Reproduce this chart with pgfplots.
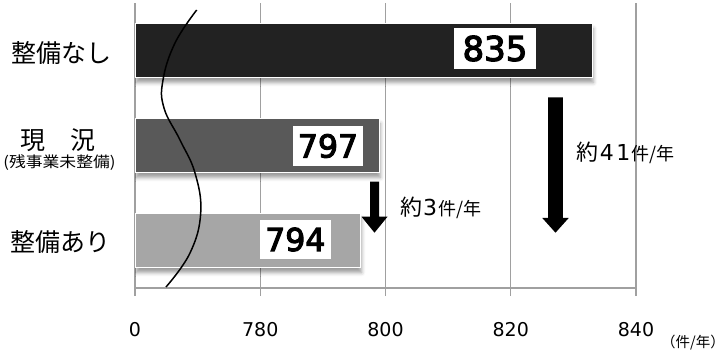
\documentclass[border=0pt]{standalone}
\usepackage{pgfplots}
\pgfplotsset{compat=1.18}
\usepackage{graphicx}
\usepackage{fontspec}
\setmainfont{Noto Sans CJK JP}
\newfontfamily\dv{DejaVu Sans}
\newfontfamily\dvb[FakeBold=3.5]{DejaVu Sans}
\usetikzlibrary{shadows.blur}
\definecolor{barA}{HTML}{222222}
\definecolor{barB}{HTML}{595959}
\definecolor{barC}{HTML}{A6A6A6}
\definecolor{gridc}{HTML}{A0A0A0}
\newcommand{\fs}[1]{\fontsize{#1bp}{#1bp}\selectfont}
\begin{document}
\begin{tikzpicture}
\useasboundingbox (-135bp,-70bp) rectangle (589bp,288bp);
\begin{axis}[
  at={(0,0)}, anchor=south west,
  scale only axis, width=501bp, height=285bp,
  xmin=760, xmax=840, ymin=0, ymax=3,
  axis lines*=left,
  axis line style={gridc, line width=1.3bp},
  xtick={760,780,800,820,840},
  xticklabels={0,780,800,820,840},
  xmajorgrids, major grid style={gridc, line width=1.3bp},
  tick align=outside, major tick length=8bp,
  tick style={gridc, line width=1.3bp},
  ytick=\empty,
  xticklabel style={anchor=center, yshift=-34bp, font=\dv\fs{19}},
  xbar, bar width=54bp,
  clip mode=individual,
]
\addplot[fill=barC, draw=white, line width=1.2bp, bar shift=0pt,
  blur shadow={shadow xshift=1bp, shadow yshift=-5bp, shadow blur radius=4bp, shadow opacity=40}]
  coordinates {(796,0.5)};
\addplot[fill=barB, draw=white, line width=1.2bp, bar shift=0pt,
  blur shadow={shadow xshift=1bp, shadow yshift=-5bp, shadow blur radius=4bp, shadow opacity=40}]
  coordinates {(799,1.5)};
\addplot[fill=barA, draw=white, line width=1.2bp, bar shift=0pt,
  blur shadow={shadow xshift=1bp, shadow yshift=-5bp, shadow blur radius=4bp, shadow opacity=40}]
  coordinates {(833,2.5)};
\end{axis}
\begin{scope}[x=1bp, y=1bp]
% value boxes
\node[fill=white, inner sep=0pt, minimum width=82bp, minimum height=41bp, font=\dvb\fs{34}] at (360,239.5) {835};
\node[fill=white, inner sep=0pt, minimum width=69bp, minimum height=40bp, font=\dvb\fs{31.5}] at (193,142) {797};
\node[fill=white, inner sep=0pt, minimum width=71bp, minimum height=39bp, font=\dvb\fs{31.5}] at (160.3,48.5) {794};
% category labels
\node[font=\fs{25}, inner sep=0pt] at (-73.3,235) {整備なし};
\node[font=\fs{25}, inner sep=0pt] at (-76.7,148) {現\hspace{1em}況};
\node[font=\fs{15}, inner sep=0pt] at (-75.5,125.7) {\scalebox{1.12}[1]{(残事業未整備)}};
\node[font=\fs{25}, inner sep=0pt] at (-74.1,45.7) {整備あり};
% break curve
\draw[black, line width=1.5bp] plot[smooth, tension=0.7] coordinates {(61.7,278) (40,245) (28,208) (29,180) (45,148) (60,115) (65.7,75) (55,35) (31,1)};
% arrows
\fill[black] (239.5,55.3) -- ++(13,16) -- ++(-8.5,0) -- ++(0,35) -- ++(-9,0) -- ++(0,-35) -- ++(-8.5,0) -- cycle;
\fill[black] (420.5,55.3) -- ++(13.2,14.7) -- ++(-5.9,0) -- ++(0,120.7) -- ++(-14.6,0) -- ++(0,-120.7) -- ++(-5.9,0) -- cycle;
% annotations
\node[anchor=base west, inner sep=0pt] at (441.7,127.5) {\fs{22}約\kern1bp{\dv 4\kern2.5bp 1}\kern1bp\fs{18}件/年};
\node[anchor=base west, inner sep=0pt] at (265,73) {\fs{22}約\kern1bp{\dv 3}\kern1bp\fs{18}件/年};
\node[font=\fs{14.5}, inner sep=0pt] at (558,-55) {（件/年）};
\end{scope}
\end{tikzpicture}
\end{document}
